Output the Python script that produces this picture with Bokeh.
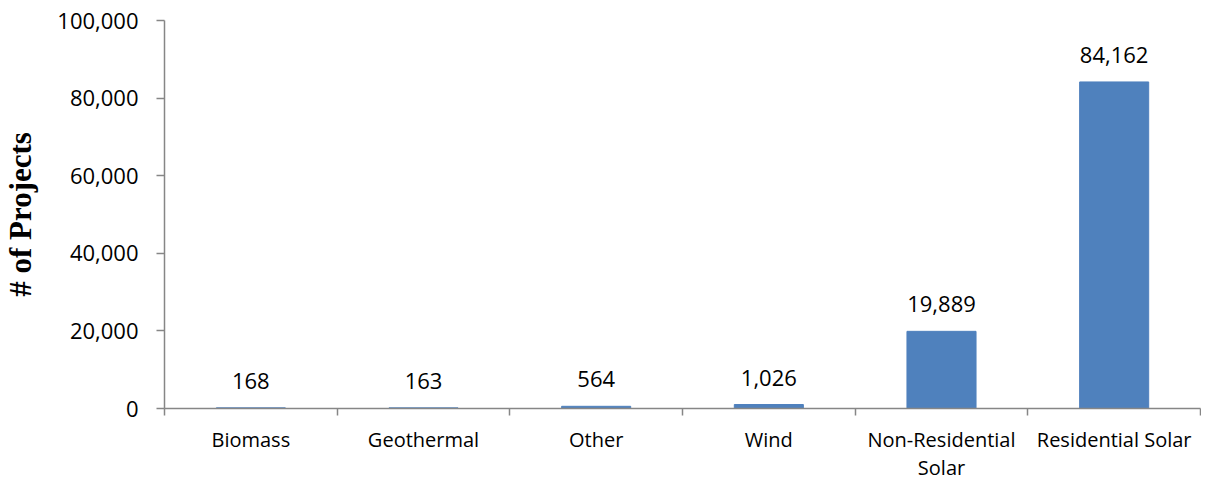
from bokeh.plotting import figure
from bokeh.models import Range1d, FixedTicker, NumeralTickFormatter, ColumnDataSource, LabelSet
from bokeh.core.properties import value
from bokeh.embed import file_html
from bokeh.resources import INLINE

categories = ["Biomass", "Geothermal", "Other", "Wind", "Non-Residential Solar", "Residential Solar"]
tick_labels = ["Biomass", "Geothermal", "Other", "Wind", "Non-Residential\nSolar", "Residential Solar"]
projects = [168, 163, 564, 1026, 19889, 84162]
y_ticks = [0, 20000, 40000, 60000, 80000, 100000]

n = len(categories)
centers = [i + 0.5 for i in range(n)]
bounds = list(range(n + 1))

src = ColumnDataSource(dict(
    x=centers,
    y=projects,
    cat=categories,
    lab=[f"{v:,}" for v in projects],
))

p = figure(width=1201, height=483, output_backend="svg", toolbar_location=None,
           x_range=Range1d(0, n), y_range=Range1d(0, 100000),
           min_border_left=164, min_border_right=1, min_border_top=20, min_border_bottom=73)
p.outline_line_color = None
p.xgrid.visible = False
p.ygrid.visible = False
p.background_fill_color = "white"
p.border_fill_color = "white"

p.vbar(x="x", top="y", width=0.4, source=src, fill_color="#4F81BD", line_color="#4F81BD")

labels = LabelSet(x="x", y="y", text="lab", source=src, text_align="center",
                  text_baseline="alphabetic", y_offset=19, text_font=value("Open Sans"),
                  text_font_size=value("22px"), text_color=value("black"))
p.add_layout(labels)

ax = p.xaxis[0]
ax.ticker = FixedTicker(ticks=centers, minor_ticks=bounds)
ax.major_label_overrides = {c: t for c, t in zip(centers, tick_labels)}
ax.major_tick_out = 0
ax.major_tick_in = 0
ax.minor_tick_out = 7
ax.minor_tick_in = 0
ax.minor_tick_line_color = "#868686"
ax.minor_tick_line_width = 1.5
ax.axis_line_color = "#868686"
ax.axis_line_width = 1.5
ax.major_label_standoff = 10
ax.major_label_text_font = "Open Sans"
ax.major_label_text_font_size = "20px"
ax.major_label_text_line_height = 1.05
ax.major_label_text_color = "black"

ay = p.yaxis[0]
ay.ticker = FixedTicker(ticks=y_ticks)
ay.formatter = NumeralTickFormatter(format="0,0")
ay.major_tick_out = 8
ay.major_tick_in = 0
ay.minor_tick_out = 0
ay.minor_tick_in = 0
ay.major_tick_line_color = "#868686"
ay.major_tick_line_width = 1.5
ay.axis_line_color = "#868686"
ay.axis_line_width = 1.5
ay.major_label_standoff = 18
ay.major_label_text_font = "Open Sans"
ay.major_label_text_font_size = "22px"
ay.major_label_text_color = "black"
ay.axis_label = "# of Projects"
ay.axis_label_text_font = "Liberation Serif"
ay.axis_label_text_font_style = "bold"
ay.axis_label_text_font_size = "31px"
ay.axis_label_text_color = "black"
ay.axis_label_standoff = 16

open("out.html", "w").write(file_html(p, INLINE))
